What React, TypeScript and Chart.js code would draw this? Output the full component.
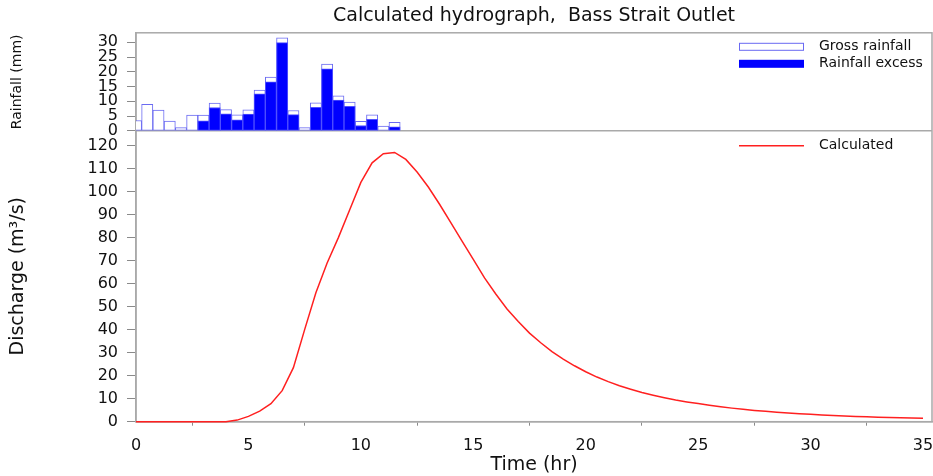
import React, { useEffect, useRef } from 'react';
import { Chart, registerables } from 'chart.js';

Chart.register(...registerables);

// ---- data ----
const chartTitle = 'Calculated hydrograph,  Bass Strait Outlet';
const rainLabel = 'Rainfall (mm)';
const flowLabel = 'Discharge (m³/s)';
const timeLabel = 'Time (hr)';
const grossLabel = 'Gross rainfall';
const excessLabel = 'Rainfall excess';
const calcLabel = 'Calculated';

// rainfall bar centres (hr)
const rainTimes = [0, 0.5, 1, 1.5, 2, 2.5, 3, 3.5, 4, 4.5, 5, 5.5, 6, 6.5, 7, 7.5, 8, 8.5, 9, 9.5, 10, 10.5, 11, 11.5];
const grossRainfall = [3.5, 9, 7, 3.3, 1.1, 5.3, 5.3, 9.4, 7.2, 5.4, 7.1, 13.8, 18.2, 31.5, 6.9, 1.1, 9.5, 22.6, 11.9, 9.7, 3.2, 5.4, 1.6, 2.9];
const rainfallExcess = [0, 0, 0, 0, 0, 0, 3.4, 7.9, 5.8, 3.7, 5.7, 12.5, 16.6, 29.9, 5.5, 0, 8.0, 21.0, 10.4, 8.3, 1.8, 3.9, 0, 1.4];

// hydrograph
const flowTimes = [
  0, 0.5, 1, 1.5, 2, 2.5, 3, 3.5, 4, 4.5, 5, 5.5, 6, 6.5, 7, 7.5, 8, 8.5, 9, 9.5,
  10, 10.5, 11, 11.5, 12, 12.5, 13, 13.5, 14, 14.5, 15, 15.5, 16, 16.5, 17, 17.5,
  18, 18.5, 19, 19.5, 20, 20.5, 21, 21.5, 22, 22.5, 23, 23.5, 24, 24.5, 25, 25.5,
  26, 26.5, 27, 27.5, 28, 28.5, 29, 29.5, 30, 30.5, 31, 31.5, 32, 32.5, 33, 33.5,
  34, 34.5, 35,
];
const calculatedFlow = [
  0, 0, 0, 0, 0, 0, 0, 0, 0, 0.7, 2.3, 4.6, 7.8, 13.5, 23.5, 40, 56, 69, 80, 92,
  104, 112.5, 116.5, 117, 114, 108.5, 102, 94.5, 86.5, 78.5, 70.5, 62.5, 55.5, 49, 43.5, 38.5,
  34.3, 30.5, 27.2, 24.3, 21.7, 19.4, 17.4, 15.6, 14.1, 12.7, 11.5, 10.4, 9.4, 8.6, 7.9, 7.2,
  6.5, 5.9, 5.4, 4.9, 4.5, 4.1, 3.8, 3.5, 3.2, 2.9, 2.7, 2.5, 2.3, 2.1, 1.9, 1.8,
  1.7, 1.6, 1.5,
];

// axis ranges / ticks
const timeMin = 0;
const timeMax = 35.4;
const timeStep = 5;
const flowMax = 126.4;
const flowStep = 10;
const rainMax = 33.2;
const rainStep = 5;

const FONT = '"DejaVu Sans", sans-serif';
const FRAME = '#a9a9a9';
const TICK = '#8a8a8a';
const TEXT = '#111111';

const framePlugin = {
  id: 'hydroFrame',
  beforeDatasetsDraw(chart: any) {
    const { ctx, chartArea: a } = chart;
    const yR = chart.scales.yR;
    ctx.save();
    ctx.strokeStyle = FRAME;
    ctx.lineWidth = 1.5;
    ctx.strokeRect(a.left, a.top, a.right - a.left, a.bottom - a.top);
    ctx.beginPath();
    ctx.moveTo(a.left, yR.bottom);
    ctx.lineTo(a.right, yR.bottom);
    ctx.stroke();
    ctx.restore();
  },
};

const legendPlugin = {
  id: 'hydroLegend',
  afterDraw(chart: any) {
    const { ctx, chartArea: a } = chart;
    const yR = chart.scales.yR;
    const ds = chart.data.datasets;
    const boxL = a.right - 193;
    const boxW = 65;
    const textX = a.right - 113;
    ctx.save();
    ctx.font = `14px ${FONT}`;
    ctx.textBaseline = 'middle';
    ctx.textAlign = 'left';
    // gross rainfall
    const y1 = a.top + 14;
    ctx.fillStyle = '#ffffff';
    ctx.fillRect(boxL, y1 - 4, boxW, 8);
    ctx.strokeStyle = ds[1].borderColor;
    ctx.lineWidth = 1;
    ctx.strokeRect(boxL + 0.5, y1 - 3.5, boxW - 1, 7);
    ctx.fillStyle = TEXT;
    ctx.fillText(ds[1].label, textX, y1);
    // rainfall excess
    const y2 = a.top + 31;
    ctx.fillStyle = ds[0].backgroundColor;
    ctx.fillRect(boxL, y2 - 4, boxW, 8);
    ctx.fillStyle = TEXT;
    ctx.fillText(ds[0].label, textX, y2);
    // calculated
    const y3 = yR.bottom + 15;
    ctx.strokeStyle = ds[2].borderColor;
    ctx.lineWidth = 1.5;
    ctx.beginPath();
    ctx.moveTo(boxL, y3);
    ctx.lineTo(boxL + boxW, y3);
    ctx.stroke();
    ctx.fillStyle = TEXT;
    ctx.fillText(ds[2].label, textX, y3);
    ctx.restore();
  },
};

export default function App() {
  const ref = useRef<HTMLCanvasElement>(null);

  useEffect(() => {
    document.body.style.margin = '0';
    document.body.style.overflow = 'hidden';
    const canvas = ref.current;
    if (!canvas) return;

    const fixWidth = (scale: any) => {
      scale.width = 136;
    };
    const fixX = (scale: any) => {
      scale.height = 54.3;
      scale.paddingLeft = 0;
      scale.paddingRight = 0;
    };

    const chart = new Chart(canvas, {
      type: 'bar',
      data: {
        datasets: [
          {
            type: 'bar',
            label: excessLabel,
            data: rainTimes.map((t, i) => ({ x: t, y: rainfallExcess[i] })),
            backgroundColor: '#0000ff',
            borderColor: '#5050ff',
            borderWidth: 1,
            borderSkipped: false,
            xAxisID: 'x',
            yAxisID: 'yR',
            grouped: false,
            barPercentage: 1,
            categoryPercentage: 1,
            order: 1,
          } as any,
          {
            type: 'bar',
            label: grossLabel,
            data: rainTimes.map((t, i) => ({ x: t, y: grossRainfall[i] })),
            backgroundColor: '#ffffff',
            borderColor: '#6a6af2',
            borderWidth: 1,
            borderSkipped: false,
            xAxisID: 'x',
            yAxisID: 'yR',
            grouped: false,
            barPercentage: 1,
            categoryPercentage: 1,
            order: 2,
          } as any,
          {
            type: 'line',
            label: calcLabel,
            data: flowTimes.map((t, i) => ({ x: t, y: calculatedFlow[i] })),
            borderColor: '#ff2020',
            backgroundColor: '#ff2020',
            borderWidth: 1.5,
            pointRadius: 0,
            tension: 0,
            fill: false,
            clip: { left: 0, top: 0, right: 0, bottom: 2 },
            xAxisID: 'x',
            yAxisID: 'y',
            order: 0,
          } as any,
        ],
      },
      options: {
        animation: false,
        responsive: true,
        maintainAspectRatio: false,
        layout: { padding: { top: 0, right: 1, bottom: 0, left: 0 } },
        plugins: {
          legend: { display: false },
          tooltip: { enabled: false },
          title: {
            display: true,
            text: chartTitle,
            color: TEXT,
            fullSize: false,
            font: { family: FONT, size: 19, weight: 'normal', lineHeight: 1.2 },
            padding: { top: 5, bottom: 5 },
          },
        },
        scales: {
          x: {
            type: 'linear',
            position: 'bottom',
            min: timeMin,
            max: timeMax,
            offset: false,
            afterFit: fixX,
            grid: {
              display: true,
              drawOnChartArea: false,
              drawTicks: true,
              tickLength: 4,
              color: TICK,
            },
            border: { display: true, color: FRAME, width: 1.5 },
            ticks: {
              stepSize: timeStep,
              includeBounds: false,
              autoSkip: false,
              maxRotation: 0,
              padding: 10.7,
              color: TEXT,
              font: { family: FONT, size: 16, lineHeight: 1.2 },
            },
            title: {
              display: true,
              text: timeLabel,
              color: TEXT,
              font: { family: FONT, size: 19, lineHeight: 1.1 },
              padding: { top: 0, bottom: 0 },
            },
          } as any,
          y: {
            type: 'linear',
            position: 'left',
            stack: 'hydro',
            stackWeight: 290.7,
            min: 0,
            max: flowMax,
            afterFit: fixWidth,
            grid: {
              display: true,
              drawOnChartArea: false,
              drawTicks: true,
              tickLength: 9,
              color: TICK,
            },
            border: { display: true, color: FRAME, width: 1.5 },
            ticks: {
              stepSize: flowStep,
              includeBounds: false,
              autoSkip: false,
              padding: 9,
              color: TEXT,
              font: { family: FONT, size: 16 },
            },
            title: {
              display: true,
              text: flowLabel,
              color: TEXT,
              font: { family: FONT, size: 19, lineHeight: 1.2 },
              padding: { top: 6.6, bottom: 0 },
            },
          } as any,
          yR: {
            type: 'linear',
            position: 'left',
            stack: 'hydro',
            stackWeight: 98,
            min: 0,
            max: rainMax,
            afterFit: fixWidth,
            grid: {
              display: true,
              drawOnChartArea: false,
              drawTicks: true,
              tickLength: 9,
              color: TICK,
            },
            border: { display: true, color: FRAME, width: 1.5 },
            ticks: {
              stepSize: rainStep,
              includeBounds: false,
              autoSkip: false,
              padding: 9,
              color: TEXT,
              font: { family: FONT, size: 16, lineHeight: 1 },
            },
            title: {
              display: true,
              text: rainLabel,
              color: TEXT,
              font: { family: FONT, size: 14, lineHeight: 1.2 },
              padding: { top: 9, bottom: 0 },
            },
          } as any,
        },
      } as any,
      plugins: [framePlugin, legendPlugin],
    });

    return () => chart.destroy();
  }, []);

  return (
    <div style={{ position: 'relative', width: 933, height: 476 }}>
      <canvas ref={ref} />
    </div>
  );
}
